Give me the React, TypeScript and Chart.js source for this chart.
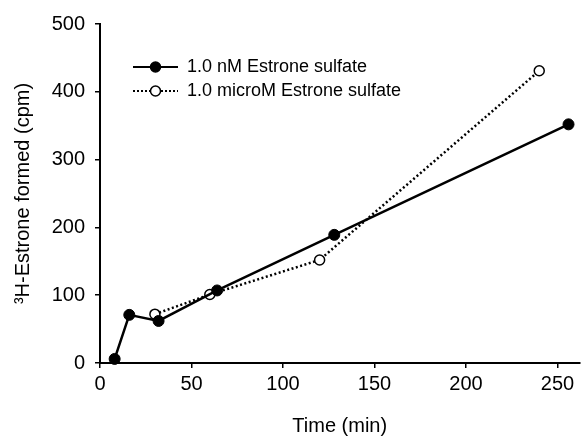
import React, { useEffect, useRef } from "react";
import { Chart, registerables } from "chart.js";

Chart.register(...registerables);

const timesNM = [8, 16, 32, 64, 128, 256];
const valuesNM = [6, 71, 62, 107, 189, 352];
const timesMicro = [30, 60, 120, 240];
const valuesMicro = [72, 101, 152, 431];
const seriesLabels = ["1.0 nM Estrone sulfate", "1.0 microM Estrone sulfate"];
const xTitle = "Time (min)";
const yTitle = "\u00B3H-Estrone formed (cpm)";
const xTickValues = [0, 50, 100, 150, 200, 250];
const yTickValues = [0, 100, 200, 300, 400, 500];

const FONT = "'Liberation Sans', Arial, sans-serif";

function makeLegendIcon(filled: boolean, dotted: boolean): HTMLCanvasElement {
  const c = document.createElement("canvas");
  const w = 72;
  const h = 14;
  c.width = w;
  c.height = h;
  const ctx = c.getContext("2d")!;
  const lineStart = 27;
  const mid = lineStart + 22.5;
  ctx.strokeStyle = "#000";
  ctx.lineWidth = 2;
  if (dotted) ctx.setLineDash([2, 2]);
  ctx.beginPath();
  ctx.moveTo(lineStart, h / 2);
  ctx.lineTo(w, h / 2);
  ctx.stroke();
  ctx.setLineDash([]);
  ctx.beginPath();
  ctx.arc(mid, h / 2, 5, 0, Math.PI * 2);
  ctx.fillStyle = filled ? "#000" : "#fff";
  ctx.fill();
  ctx.lineWidth = 1.5;
  ctx.stroke();
  return c;
}

export default function App() {
  const canvasRef = useRef<HTMLCanvasElement | null>(null);

  useEffect(() => {
    document.body.style.margin = "0";
    const canvas = canvasRef.current;
    if (!canvas) return;
    const icons = [makeLegendIcon(true, false), makeLegendIcon(false, true)];

    const chart = new Chart(canvas, {
      type: "line",
      data: {
        datasets: [
          {
            label: seriesLabels[0],
            data: timesNM.map((t, i) => ({ x: t, y: valuesNM[i] })),
            borderColor: "#000",
            borderWidth: 2.5,
            pointRadius: 5.5,
            pointBackgroundColor: "#000",
            pointBorderColor: "#000",
            pointBorderWidth: 1,
            tension: 0,
            clip: false as any,
          },
          {
            label: seriesLabels[1],
            data: timesMicro.map((t, i) => ({ x: t, y: valuesMicro[i] })),
            borderColor: "#000",
            borderWidth: 2.5,
            borderDash: [2, 2.5],
            pointRadius: 5,
            pointBackgroundColor: "#fff",
            pointBorderColor: "#000",
            pointBorderWidth: 1.5,
            tension: 0,
            clip: false as any,
          },
        ],
      },
      options: {
        responsive: false,
        animation: false,
        layout: { padding: { top: 24, right: 1, left: 0, bottom: 0 } },
        font: { family: FONT },
        plugins: {
          tooltip: { enabled: false },
          legend: {
            position: "chartArea" as any,
            align: "start",
            title: { display: true, text: "", font: { size: 10, lineHeight: 1 }, padding: { top: 42, bottom: 0 } },
            labels: {
              usePointStyle: true,
              pointStyleWidth: 72,
              padding: 6,
              color: "#000",
              font: { family: FONT, size: 18 },
              generateLabels: (ch: any) =>
                ch.data.datasets.map((ds: any, i: number) => ({
                  text: ds.label,
                  pointStyle: icons[i],
                  fillStyle: "transparent",
                  strokeStyle: "transparent",
                  lineWidth: 0,
                  hidden: false,
                  datasetIndex: i,
                  fontColor: "#000",
                })),
            },
          },
        },
        scales: {
          x: {
            type: "linear",
            min: 0,
            max: 262,
            afterFit: (s: any) => {
              s.height = 73;
            },
            afterBuildTicks: (s: any) => {
              s.ticks = xTickValues.map((v) => ({ value: v }));
            },
            grid: { display: true, drawOnChartArea: false, drawTicks: true, tickLength: 5, color: "#000", lineWidth: 1.5 },
            border: { display: true, color: "#000", width: 2 },
            ticks: { color: "#000", font: { family: FONT, size: 20 }, padding: 4, maxRotation: 0 },
            title: { display: true, text: xTitle, color: "#000", font: { family: FONT, size: 20 }, padding: { top: 0, bottom: -2 } },
          },
          y: {
            type: "linear",
            min: 0,
            max: 500,
            afterFit: (s: any) => {
              s.width = 100;
            },
            afterBuildTicks: (s: any) => {
              s.ticks = yTickValues.map((v) => ({ value: v }));
            },
            grid: { display: true, drawOnChartArea: false, drawTicks: true, tickLength: 5, color: "#000", lineWidth: 1.5 },
            border: { display: true, color: "#000", width: 2 },
            ticks: { color: "#000", font: { family: FONT, size: 20 }, padding: 10 },
            title: { display: true, text: yTitle, color: "#000", font: { family: FONT, size: 20 }, padding: { top: 11, bottom: 0 } },
          },
        },
      },
    });
    return () => chart.destroy();
  }, []);

  return (
    <div style={{ width: 586, height: 436 }}>
      <canvas ref={canvasRef} width={586} height={436} />
    </div>
  );
}
